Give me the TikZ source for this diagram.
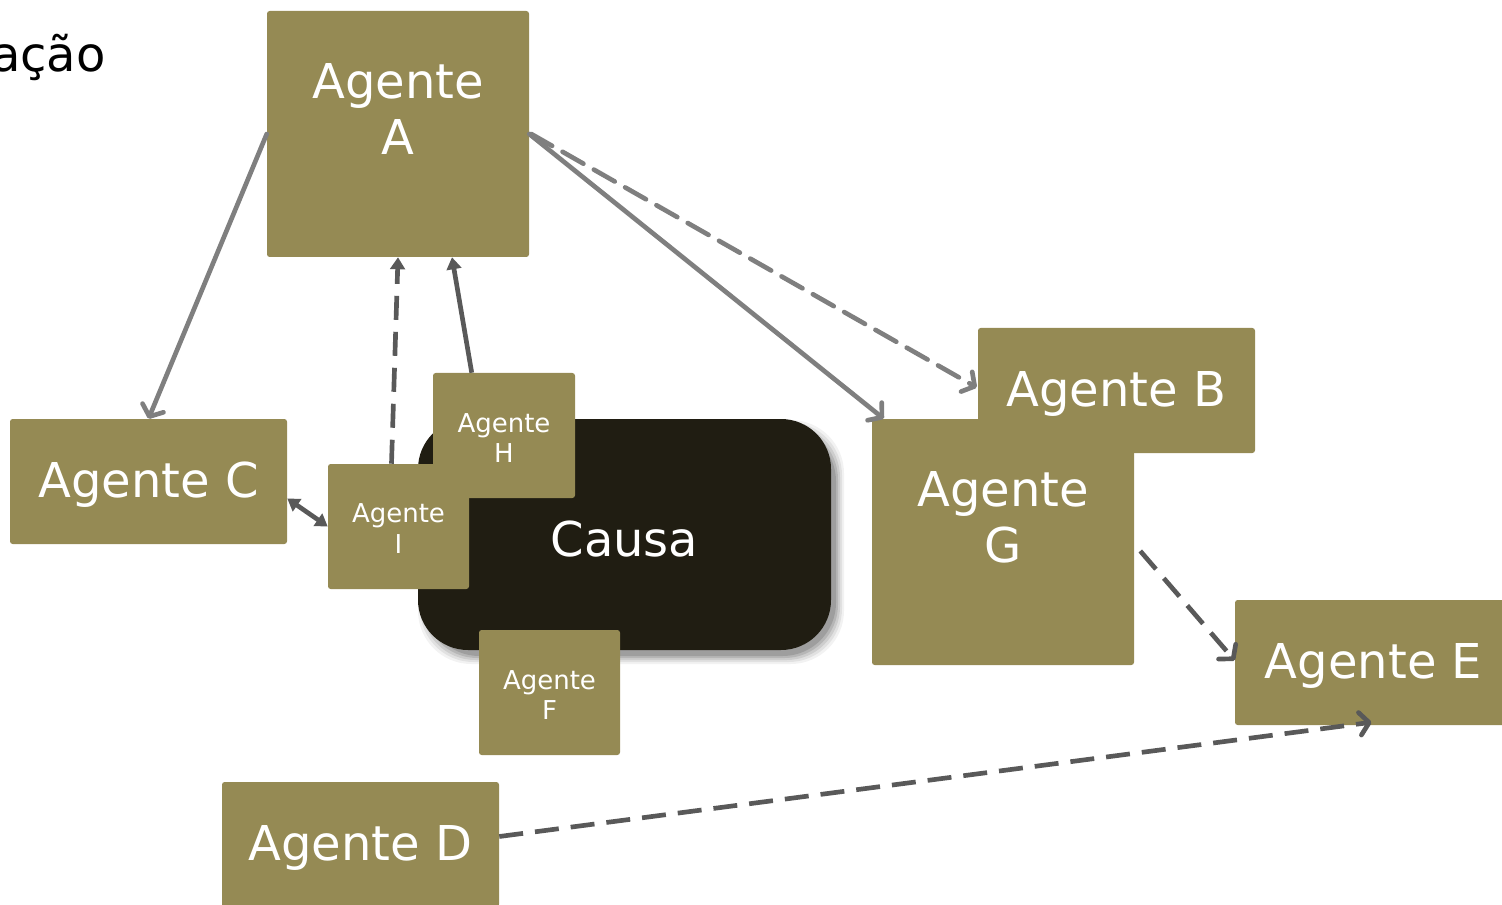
\documentclass[tikz,border=0pt]{standalone}
\usepackage{fontspec}
\setmainfont{DejaVu Sans}
\usetikzlibrary{arrows.meta,calc}
\definecolor{olive}{HTML}{958A54}
\definecolor{causafill}{HTML}{201D12}
\definecolor{lgray}{HTML}{7F7F7F}
\definecolor{dgray}{HTML}{595959}
\tikzset{
  agent/.style={fill=olive, draw=none, rounded corners=2pt, inner sep=0pt},
  bigtxt/.style={font=\fontsize{36}{42}\selectfont, text=white, align=center},
  smalltxt/.style={font=\fontsize{19.5}{23}\selectfont, text=white, align=center},
  lconn/.style={draw=lgray, line width=3.5pt, line cap=round, -{Straight Barb[length=7pt,width=17pt,round]}},
  dconn/.style={draw=dgray, line width=3.5pt, -{Triangle[length=9pt,width=11pt]}},
  dbarb/.style={draw=dgray, line width=3.5pt, -{Straight Barb[length=7pt,width=17pt,round]}},
  dsh/.style={dash pattern=on 18pt off 9pt},
}
\begin{document}
\begin{tikzpicture}[x=0.75pt,y=-0.75pt]
\useasboundingbox (0,0) rectangle (1502,905);
\clip (0,0) rectangle (1502,905);
% title fragment
\node[anchor=base east, font=\fontsize{36}{42}\selectfont, inner sep=0pt] (title) at (106,72) {ação};
% shadow of Causa
\foreach \s/\o in {9/0.05,7/0.07,5/0.09,3/0.11,1/0.13}{
  \fill[black, opacity=\o, rounded corners=40pt]
    ($(418,419)+(9-\s,10-\s)$) rectangle ($(831,650)+(4+\s,5+\s)$);
}
\node[fill=causafill, rounded corners=37.5pt, minimum width=309.75pt, minimum height=173.25pt, inner sep=0pt] (causa) at (624.5,534.5) {};
\node[bigtxt] (causatxt) at (624.5,539) {Causa};
% boxes
\node[agent, minimum width=196.5pt, minimum height=184.5pt] (a) at (398,134) {};
\node[bigtxt] (atxt) at (398,109) {Agente\\A};
\node[agent, minimum width=207.75pt, minimum height=93.75pt] (c) at (148.5,481.5) {};
\node[bigtxt] (ctxt) at (148.5,485) {Agente C};
\node[agent, minimum width=207.75pt, minimum height=93.75pt] (b) at (1116.5,390.5) {};
\node[bigtxt] (btxt) at (1116.5,394) {Agente B};
\node[agent, minimum width=196.5pt, minimum height=184.5pt] (g) at (1003,542) {};
\node[bigtxt] (gtxt) at (1003,517) {Agente\\G};
\node[agent, minimum width=207.75pt, minimum height=93.75pt] (e) at (1373.5,662.5) {};
\node[bigtxt] (etxt) at (1373.5,666) {Agente E};
\node[agent, minimum width=207.75pt, minimum height=93.75pt] (d) at (360.5,844.5) {};
\node[bigtxt] (dtxt) at (360.5,848) {Agente D};
\node[agent, minimum width=106.5pt, minimum height=93.75pt] (h) at (504,435.5) {};
\node[smalltxt] (htxt) at (504,438) {Agente\\H};
\node[agent, minimum width=105.75pt, minimum height=93.75pt] (i) at (398.5,526.5) {};
\node[smalltxt] (itxt) at (398.5,528.5) {Agente\\I};
\node[agent, minimum width=105.75pt, minimum height=93.75pt] (f) at (549.5,692.5) {};
\node[smalltxt] (ftxt) at (549.5,695) {Agente\\F};
% connectors
\draw[lconn] (a.west) -- (c.north);
\draw[lconn] (a.east) -- ($(g.north west)+(12,0)$);
\draw[lconn, dsh] ($(a.east)+(2,0)$) -- ($(b.west)+(-1,-3)$);
\draw[dconn, dsh] ($(i.north)+(-7,0)$) -- (a.south);
\draw[dconn] ($(h.north west)+(39,0)$) -- ($(a.south)+(54,0)$);
\draw[draw=dgray, line width=3.5pt, {Triangle[length=9pt,width=11pt]}-{Triangle[length=9pt,width=11pt]}] ($(c.east)+(0,17)$) -- (i.west);
\draw[dbarb, dsh] ($(g.east)+(6,9)$) -- ($(e.west)+(0,-2)$);
\draw[dbarb, dsh] ($(d.east)+(0,-8)$) -- ($(e.south)+(-2,-3)$);
\end{tikzpicture}
\end{document}
